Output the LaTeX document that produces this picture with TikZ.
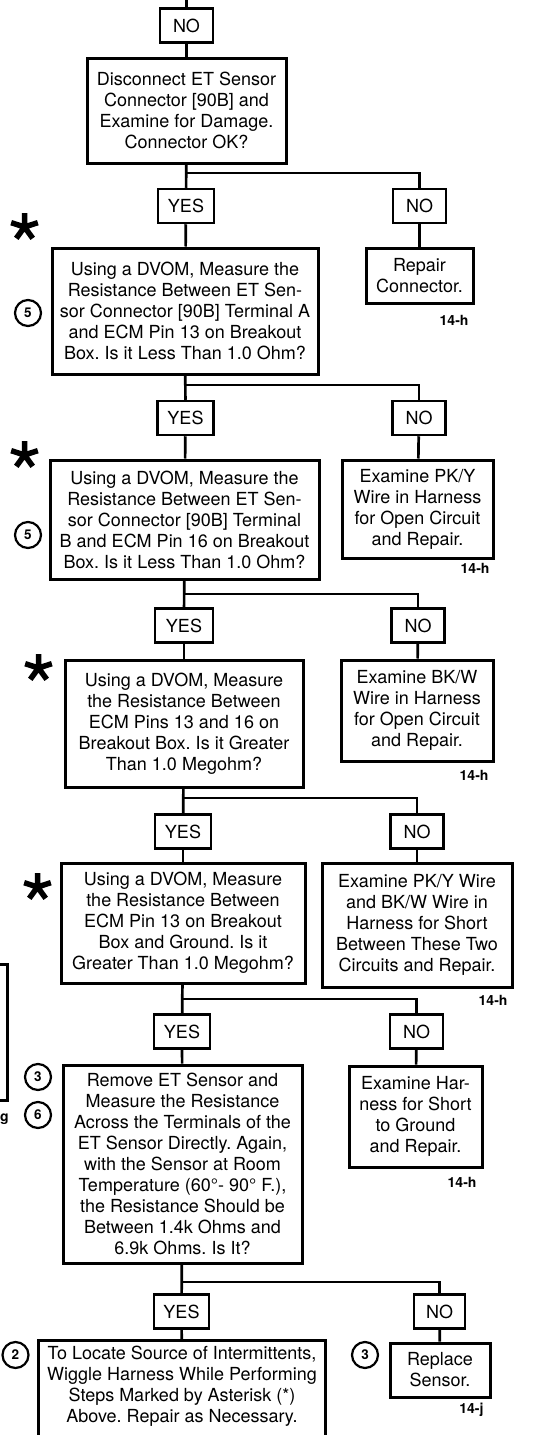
\documentclass[tikz,border=0pt]{standalone}
\usepackage{fontspec}
\setmainfont{TeX Gyre Heros}
\frenchspacing

\begin{document}
\begin{tikzpicture}[x=1pt,y=-1pt,
  every node/.style={font=\fontsize{18}{21}\selectfont},
  testbox/.style={draw,line width=3pt,align=center,inner sep=0pt},
  yesbox/.style={draw,line width=2.5pt,inner sep=0pt,minimum width=56,minimum height=34},
  nobox/.style={draw,line width=2.5pt,inner sep=0pt,minimum width=53,minimum height=34},
  link/.style={line width=2.7pt},
  pageref/.style={anchor=east,font=\fontsize{14}{16}\selectfont\bfseries},
  callout/.style={circle,draw,line width=2.2pt,minimum size=26,inner sep=0pt,
    font=\fontsize{13.5}{13.5}\selectfont\bfseries},
  asterisk/.pic={\draw[line width=5.5pt]
    (0,0) -- (-90:14) (0,0) -- (-18:14) (0,0) -- (-162:14)
    (0,0) -- (54:14) (0,0) -- (126:14);}]

\useasboundingbox (0,0) rectangle (539,1435);

%
% Incoming branch from the previous test
%
\coordinate (top) at (186.5,-5);
\node[nobox] (no0) at (186.5,25.7) {NO};
\draw[link] (top) -- (no0);

% Check the connector
\node[testbox,minimum width=199,minimum height=105] (q1) at (186.5,110.5)
  {Disconnect ET Sensor\\Connector [90B] and\\Examine for Damage.\\Connector OK?};
\draw[link] (no0) -- (q1);

\coordinate (j1) at (186.5,173);
\node[yesbox] (yes1) at (186,206) {YES};
\node[nobox] (no1) at (419.5,206) {NO};
\draw[link] (q1) -- (yes1);
\draw[link] (j1) -| (no1);

\node[testbox,minimum width=107,minimum height=55] (a1) at (419.5,275.5)
  {Repair\\Connector.};
\draw[link] (no1) -- (a1);
\node[pageref] (r1) at (472,320) {14-h};

%
% Terminal A to pin 13
%
\pic at (24.5,227) {asterisk};
\node[callout] (c1) at (28,313) {5};
\node[testbox,minimum width=266,minimum height=126] (q2) at (185,311)
  {Using a DVOM, Measure the\\Resistance Between ET Sen-\\sor Connector [90B] Terminal A\\and ECM Pin 13 on Breakout\\Box. Is it Less Than 1.0 Ohm?};
\draw[link] (yes1) -- (q2);

\coordinate (j2) at (185,385);
\node[yesbox] (yes2) at (185.5,418) {YES};
\node[nobox] (no2) at (419,418) {NO};
\draw[link] (q2) -- (yes2);
\draw[link] (j2) -| (no2);

\node[testbox,minimum width=151,minimum height=98] (a2) at (417.5,509)
  {Examine PK/Y\\Wire in Harness\\for Open Circuit\\and Repair.};
\draw[link] (no2) -- (a2);
\node[pageref] (r2) at (493,568) {14-h};

%
% Terminal B to pin 16
%
\pic at (24.5,455) {asterisk};
\node[callout] (c2) at (28,535) {5};
\node[testbox,minimum width=269,minimum height=119] (q3) at (184.5,519.5)
  {Using a DVOM, Measure the\\Resistance Between ET Sen-\\sor Connector [90B] Terminal\\B and ECM Pin 16 on Breakout\\Box. Is it Less Than 1.0 Ohm?};
\draw[link] (yes2) -- (q3);

\coordinate (j3) at (184.5,594);
\node[yesbox,minimum width=58] (yes3) at (184,625.5) {YES};
\node[nobox] (no3) at (418,625.5) {NO};
\draw[link] (q3) -- (yes3);
\draw[link] (j3) -| (no3);

\node[testbox,minimum width=152,minimum height=101] (a3) at (417,710.5)
  {Examine BK/W\\Wire in Harness\\for Open Circuit\\and Repair.};
\draw[link] (no3) -- (a3);
\node[pageref] (r3) at (492,775) {14-h};

%
% Pin 13 to pin 16
%
\pic at (38.5,668) {asterisk};
\node[testbox,minimum width=238,minimum height=127] (q4) at (184,723.5)
  {Using a DVOM, Measure\\the Resistance Between\\ECM Pins 13 and 16 on\\Breakout Box. Is it Greater\\Than 1.0 Megohm?};
\draw[link] (yes3) -- (q4);

\coordinate (j4) at (184,798);
\node[yesbox] (yes4) at (183,831.5) {YES};
\node[nobox] (no4) at (417,831.5) {NO};
\draw[link] (q4) -- (yes4);
\draw[link] (j4) -| (no4);

\node[testbox,minimum width=190,minimum height=124] (a4) at (417,925)
  {Examine PK/Y Wire\\and BK/W Wire in\\Harness for Short\\Between These Two\\Circuits and Repair.};
\draw[link] (no4) -- (a4);
\node[pageref] (r4) at (511,1000) {14-h};

%
% Pin 13 to ground
%
\pic at (37.5,887) {asterisk};
\node[testbox,minimum width=244,minimum height=120] (q5) at (183,923)
  {Using a DVOM, Measure\\the Resistance Between\\ECM Pin 13 on Breakout\\Box and Ground. Is it\\Greater Than 1.0 Megohm?};
\draw[link] (yes4) -- (q5);

\coordinate (j5) at (183,999);
\node[yesbox] (yes5) at (182,1031.5) {YES};
\node[nobox] (no5) at (416.5,1031.5) {NO};
\draw[link] (q5) -- (yes5);
\draw[link] (j5) -| (no5);

\node[testbox,minimum width=133,minimum height=101] (a5) at (415.5,1116.5)
  {Examine Har-\\ness for Short\\to Ground\\and Repair.};
\draw[link] (no5) -- (a5);
\node[pageref] (r5) at (480,1182) {14-h};

% Edge of the neighbouring chart
\draw[link,line width=3pt] (-30,964) -- (7,964) -- (7,1100) -- (-30,1100);
\node[pageref,anchor=west,inner sep=0pt] (r0) at (0,1119) {g};

%
% Sensor resistance
%
\node[callout] (c3) at (38,1077) {3};
\node[callout] (c4) at (38,1115) {6};
\node[testbox,minimum width=239,minimum height=198] (q6) at (182.5,1164)
  {Remove ET Sensor and\\Measure the Resistance\\Across the Terminals of the\\ET Sensor Directly. Again,\\with the Sensor at Room\\Temperature (60°- 90° F.),\\the Resistance Should be\\Between 1.4k Ohms and\\6.9k Ohms. Is It?};
\draw[link] (yes5) -- (q6);

\coordinate (j6) at (182.5,1282);
\node[yesbox,minimum width=55] (yes6) at (181.5,1311.5) {YES};
\node[nobox,minimum width=51] (no6) at (439.5,1311.5) {NO};
\draw[link] (q6) -- (yes6);
\draw[link] (j6) -| (no6);

% Intermittent check, runs off the bottom
\node[callout] (c5) at (15.5,1355) {2};
\node[testbox,draw=none,minimum width=284,minimum height=89] (q7) at (182,1386.5)
  {To Locate Source of Intermittents,\\Wiggle Harness While Performing\\Steps Marked by Asterisk (*)\\Above. Repair as Necessary.};
\draw[link,line width=3pt] ([yshift=-30pt]q7.south west) -- (q7.north west)
  -- (q7.north east) -- ([yshift=-30pt]q7.south east);
\draw[link] (yes6) -- (q7);

\node[callout] (c6) at (365,1355) {3};
\node[testbox,minimum width=100,minimum height=54] (a6) at (440,1370)
  {Replace\\Sensor.};
\draw[link] (no6) -- (a6);
\node[pageref] (r6) at (487,1410) {14-j};

\end{tikzpicture}
\end{document}
